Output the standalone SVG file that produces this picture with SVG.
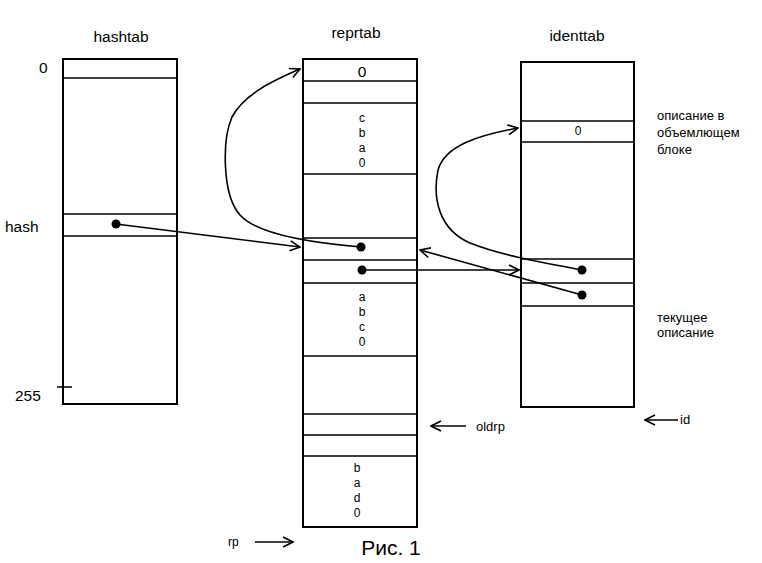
<svg xmlns="http://www.w3.org/2000/svg" width="762" height="563" viewBox="0 0 762 563">
<style>
.box{fill:#fff;stroke:#000;stroke-width:2}
.ln{stroke:#000;stroke-width:1.5;fill:none}
.c{stroke:#000;stroke-width:1.6;fill:none}
.t{font-family:"Liberation Sans",Arial,sans-serif;fill:#000}
.s15{font-size:15.5px}
.s13{font-size:13px}
.s12{font-size:12px}
.mid{text-anchor:middle}
</style>
<defs>
<marker id="ah" viewBox="0 0 12 12" refX="11" refY="6" markerWidth="12" markerHeight="12" markerUnits="userSpaceOnUse" orient="auto">
<path d="M1,1 L11,6 L1,11" fill="none" stroke="#000" stroke-width="1.6"/>
</marker>
</defs>
<rect width="762" height="563" fill="#fff"/>

<g id="hashtab">
<text class="t s15 mid" x="121" y="42">hashtab</text>
<rect class="box" x="63" y="59" width="114" height="345"/>
<line class="ln" x1="63" y1="78" x2="177" y2="78"/>
<line class="ln" x1="63" y1="214" x2="177" y2="214"/>
<line class="ln" x1="63" y1="236" x2="177" y2="236"/>
<circle cx="116" cy="224" r="4.5"/>
<text class="t s15" x="39" y="73">0</text>
<text class="t s15" x="5" y="232">hash</text>
<text class="t s15" x="15" y="401">255</text>
<line class="ln" x1="57" y1="387" x2="72" y2="387"/>
</g>

<g id="reprtab">
<text class="t s15 mid" x="356" y="38">reprtab</text>
<rect class="box" x="303" y="59" width="114" height="468"/>
<line class="ln" x1="303" y1="81" x2="417" y2="81"/>
<line class="ln" x1="303" y1="103" x2="417" y2="103"/>
<line class="ln" x1="303" y1="174" x2="417" y2="174"/>
<line class="ln" x1="303" y1="238" x2="417" y2="238"/>
<line class="ln" x1="303" y1="260" x2="417" y2="260"/>
<line class="ln" x1="303" y1="283" x2="417" y2="283"/>
<line class="ln" x1="303" y1="356" x2="417" y2="356"/>
<line class="ln" x1="303" y1="414" x2="417" y2="414"/>
<line class="ln" x1="303" y1="435" x2="417" y2="435"/>
<line class="ln" x1="303" y1="456" x2="417" y2="456"/>
<text class="t s15 mid" x="362" y="77">0</text>
<text class="t s12 mid" x="362" y="122">c</text>
<text class="t s12 mid" x="362" y="137">b</text>
<text class="t s12 mid" x="362" y="152">a</text>
<text class="t s12 mid" x="362" y="167">0</text>
<text class="t s12 mid" x="362" y="301">a</text>
<text class="t s12 mid" x="362" y="316">b</text>
<text class="t s12 mid" x="362" y="331">c</text>
<text class="t s12 mid" x="362" y="346">0</text>
<text class="t s12 mid" x="357" y="472">b</text>
<text class="t s12 mid" x="357" y="487">a</text>
<text class="t s12 mid" x="357" y="502">d</text>
<text class="t s12 mid" x="357" y="517">0</text>
<circle cx="361" cy="247" r="4.5"/>
<circle cx="362" cy="270" r="4.5"/>
</g>

<g id="identtab">
<text class="t s15 mid" x="577" y="41">identtab</text>
<rect class="box" x="521" y="62" width="113" height="345"/>
<line class="ln" x1="521" y1="121" x2="634" y2="121"/>
<line class="ln" x1="521" y1="142" x2="634" y2="142"/>
<line class="ln" x1="521" y1="259" x2="634" y2="259"/>
<line class="ln" x1="521" y1="283" x2="634" y2="283"/>
<line class="ln" x1="521" y1="306" x2="634" y2="306"/>
<text class="t s12 mid" x="578" y="135">0</text>
<circle cx="582" cy="270" r="4.5"/>
<circle cx="582" cy="295" r="4.5"/>
</g>

<g id="labels">
<text class="t s13" x="657" y="120">описание в</text>
<text class="t s13" x="657" y="137">объемлющем</text>
<text class="t s13" x="657" y="154">блоке</text>
<text class="t s13" x="657" y="322">текущее</text>
<text class="t s13" x="657" y="337">описание</text>
<text class="t s13" x="476" y="431">oldrp</text>
<text class="t s13" x="680" y="424">id</text>
<text class="t s12" x="228" y="546">rp</text>
<text class="t mid" style="font-size:21px" x="391" y="555">Рис. 1</text>
</g>

<g id="connectors">
<line class="c" x1="116" y1="224" x2="300" y2="247" marker-end="url(#ah)"/>
<path class="c" d="M361,247 C300,242 255,232 240,215 C222,195 222,140 232,117 C245,93 275,80 300,69" marker-end="url(#ah)"/>
<line class="c" x1="362" y1="270" x2="519" y2="270" marker-end="url(#ah)"/>
<line class="c" x1="582" y1="295" x2="420" y2="250" marker-end="url(#ah)"/>
<path class="c" d="M582,270 C540,262 500,255 470,243 C440,230 432,200 438,170 C445,145 480,135 518,128" marker-end="url(#ah)"/>
<line class="c" x1="466" y1="426" x2="431" y2="426" marker-end="url(#ah)"/>
<line class="c" x1="678" y1="420" x2="645" y2="420" marker-end="url(#ah)"/>
<line class="c" x1="255" y1="542" x2="293" y2="542" marker-end="url(#ah)"/>
</g>
</svg>
